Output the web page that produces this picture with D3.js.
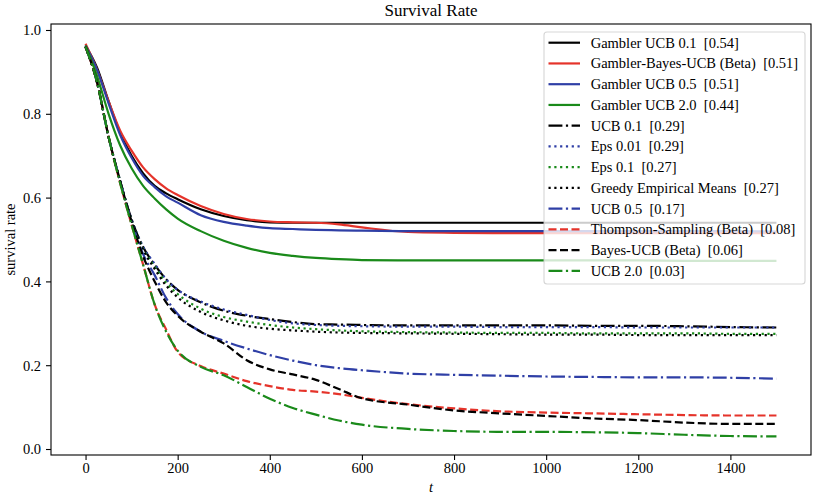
<!DOCTYPE html>
<html><head><meta charset="utf-8">
<script src="https://cdn.jsdelivr.net/npm/d3@7"></script>
<style>
html,body{margin:0;padding:0;background:#fff;}
svg text{font-family:"Liberation Serif","Times New Roman",serif !important;fill:#000;white-space:pre;}
</style></head>
<body><svg id="c" width="813" height="497" font-family="Liberation Serif"></svg>
<script>
const T = [0,25,50,75,100,125,150,175,200,250,300,350,400,450,500,550,600,700,800,900,1000,1100,1200,1300,1400,1500];
const gamblerUCB01 = [.963,.91,.83,.755,.70,.658,.628,.61,.596,.572,.556,.546,.541,.54,.54,.54,.54,.54,.54,.54,.54,.54,.54,.54,.54,.54];
const gamblerBayes = [.967,.905,.83,.76,.712,.672,.644,.622,.606,.58,.561,.549,.543,.541,.54,.536,.529,.518,.516,.515,.515,.515,.515,.515,.515,.515];
const gamblerUCB05 = [.963,.905,.825,.75,.695,.652,.625,.603,.588,.558,.542,.533,.527,.525,.523,.522,.521,.52,.52,.52,.52,.52,.52,.52,.52,.519];
const gamblerUCB20 = [.963,.89,.80,.725,.67,.628,.598,.572,.55,.52,.497,.48,.468,.461,.456,.453,.451,.45,.45,.45,.45,.45,.45,.449,.449,.449];
const ucb01 = [.96,.875,.745,.64,.548,.482,.44,.405,.38,.35,.33,.318,.31,.303,.298,.297,.296,.295,.295,.295,.295,.294,.294,.293,.291,.29];
const eps001 = [.96,.875,.745,.64,.548,.483,.442,.405,.38,.352,.333,.32,.308,.3,.296,.294,.293,.292,.292,.291,.291,.291,.29,.29,.29,.29];
const eps01 = [.96,.875,.745,.64,.546,.478,.435,.397,.37,.335,.315,.304,.296,.29,.286,.283,.281,.279,.278,.277,.277,.276,.276,.276,.275,.275];
const greedy = [.96,.875,.745,.64,.546,.476,.43,.39,.362,.327,.307,.294,.287,.283,.28,.278,.277,.276,.275,.274,.273,.273,.272,.272,.272,.272];
const ucb05 = [.96,.875,.745,.64,.543,.465,.415,.36,.322,.28,.258,.24,.224,.211,.2,.193,.188,.18,.177,.175,.173,.172,.171,.171,.17,.168];
const thompson = [.96,.875,.745,.635,.535,.44,.345,.285,.232,.198,.18,.162,.15,.141,.137,.131,.122,.107,.097,.09,.087,.085,.083,.081,.08,.08];
const bayesUCB = [.96,.875,.745,.64,.543,.46,.40,.35,.318,.28,.252,.212,.19,.178,.165,.143,.121,.106,.092,.085,.079,.073,.069,.063,.06,.06];
const ucb20 = [.96,.875,.745,.635,.535,.44,.345,.28,.235,.196,.176,.148,.12,.098,.082,.068,.058,.048,.043,.041,.041,.04,.038,.034,.031,.03];

const labels = ["Gambler UCB 0.1  [0.54]","Gambler-Bayes-UCB (Beta)  [0.51]","Gambler UCB 0.5  [0.51]","Gambler UCB 2.0  [0.44]","UCB 0.1  [0.29]","Eps 0.01  [0.29]","Eps 0.1  [0.27]","Greedy Empirical Means  [0.27]","UCB 0.5  [0.17]","Thompson-Sampling (Beta)  [0.08]","Bayes-UCB (Beta)  [0.06]","UCB 2.0  [0.03]"];
const seriesValues = [gamblerUCB01,gamblerBayes,gamblerUCB05,gamblerUCB20,ucb01,eps001,eps01,greedy,ucb05,thompson,bayesUCB,ucb20];
const xTicks = [0,200,400,600,800,1000,1200,1400];
const yTicks = [0.0,0.2,0.4,0.6,0.8,1.0];

const K="#000000", R="#e5332a", B="#2f3fa6", G="#1a8a1a";
const colors = [K,R,B,G,K,B,G,K,B,R,K,G];
const DASH="8,3.5", DASHDOT="13.9,3.5,2.2,3.5", DOT="2.2,3.6";
const dashes = [null,null,null,null,DASHDOT,DOT,DOT,DOT,DASHDOT,DASH,DASH,DASHDOT];
const FONT = "'Liberation Serif','Times New Roman',serif";

const svg = d3.select("#c");
const L=51, Rr=811, Tp=24, Bt=455;
const x = d3.scaleLinear().domain([-75,1575]).range([L,Rr]);
const y = d3.scaleLinear().domain([-0.0143,1.0143]).range([Bt,Tp]);

svg.append("clipPath").attr("id","cp").append("rect").attr("x",L).attr("y",Tp).attr("width",Rr-L).attr("height",Bt-Tp);
const line = d3.line().x((d,i)=>x(T[i])).y(d=>y(d)).curve(d3.curveMonotoneX);
const g = svg.append("g").attr("clip-path","url(#cp)");
seriesValues.forEach((vals,i)=>{
  g.append("path").attr("d",line(vals)).attr("fill","none")
   .attr("stroke",colors[i]).attr("stroke-width",2.2)
   .attr("stroke-dasharray",dashes[i]).attr("stroke-linejoin","round");
});

// axes
const xAxis = d3.axisBottom(x).tickValues(xTicks).tickSize(5).tickFormat(d3.format("d"));
const yAxis = d3.axisLeft(y).tickValues(yTicks).tickSize(5).tickFormat(d3.format(".1f"));
const gx = svg.append("g").attr("transform",`translate(0,${Bt})`).call(xAxis);
const gy = svg.append("g").attr("transform",`translate(${L},0)`).call(yAxis);
[gx,gy].forEach(a=>{
  a.attr("font-family",FONT).attr("font-size",14.5);
  a.select(".domain").remove();
  a.selectAll(".tick line").attr("stroke","#000").attr("stroke-width",1.1);
  a.selectAll("text").attr("fill","#000");
});
gx.selectAll("text").attr("y",8).attr("dy","0.71em");
gy.selectAll("text").attr("x",-10).attr("dy","0.34em");

svg.append("rect").attr("x",L).attr("y",Tp).attr("width",Rr-L).attr("height",Bt-Tp)
  .attr("fill","none").attr("stroke","#000").attr("stroke-width",1.1);

svg.append("text").attr("x",(L+Rr)/2).attr("y",15.5).attr("text-anchor","middle").attr("font-family",FONT).attr("font-size",17).text("Survival Rate");
svg.append("text").attr("x",(L+Rr)/2).attr("y",492).attr("text-anchor","middle").attr("font-family",FONT).attr("font-size",14.5).attr("font-style","italic").text("t");
svg.append("text").attr("transform",`translate(14.5,${(Tp+Bt)/2}) rotate(-90)`).attr("text-anchor","middle").attr("font-family",FONT).attr("font-size",14.5).text("survival rate");

// legend
const lg = svg.append("g");
lg.append("rect").attr("x",544).attr("y",32).attr("width",261).attr("height",252).attr("rx",3)
  .attr("fill","#fff").attr("fill-opacity",0.8).attr("stroke","#cccccc").attr("stroke-opacity",0.8).attr("stroke-width",1.1);
labels.forEach((lab,i)=>{
  const yy = 42.7 + i*20.75;
  lg.append("line").attr("x1",548.5).attr("x2",580).attr("y1",yy).attr("y2",yy)
    .attr("stroke",colors[i]).attr("stroke-width",2.2).attr("stroke-dasharray",dashes[i]);
  lg.append("text").attr("x",590.7).attr("y",yy).attr("dy","0.34em").attr("font-family",FONT).attr("font-size",14.5).attr("xml:space","preserve").text(lab);
});
</script></body></html>
